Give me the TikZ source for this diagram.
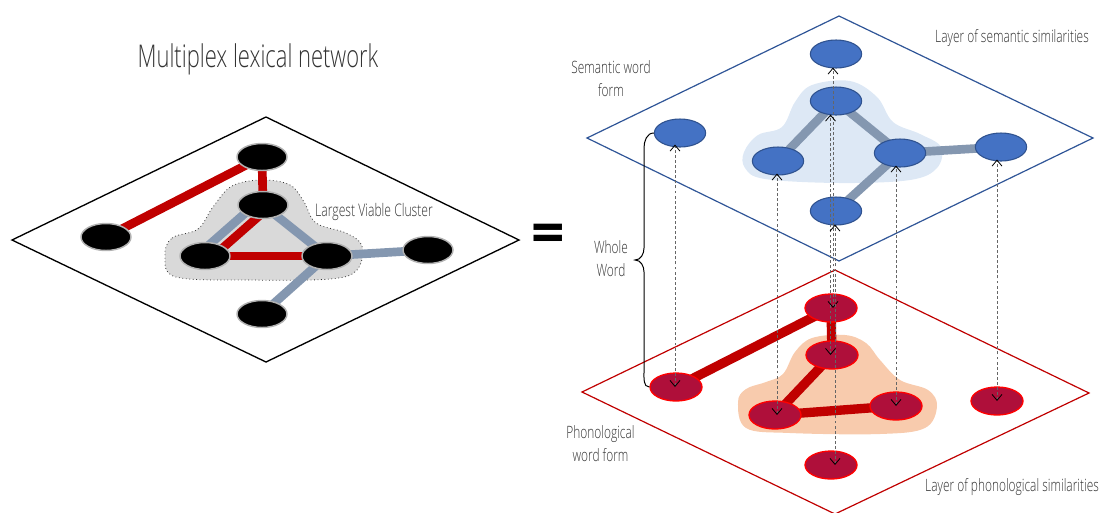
\documentclass[tikz,border=0pt]{standalone}
\usepackage{fontspec}
\IfFontExistsTF{Open Sans Light}
  {\setmainfont{Open Sans Light}[FakeStretch=0.70]}
  {\setmainfont{Open Sans}[FakeStretch=0.66]}
\newfontfamily\eqfont{Open Sans}
\usetikzlibrary{shapes.geometric,arrows.meta,calc}
\definecolor{txt}{HTML}{333333}
\definecolor{edgered}{HTML}{C00000}
\definecolor{edgegray}{HTML}{8497B0}
\definecolor{semfill}{HTML}{4472C4}
\definecolor{semdraw}{HTML}{2F528F}
\definecolor{phofill}{HTML}{AF0F3A}
\definecolor{semline}{HTML}{2F5597}
\definecolor{blobgray}{HTML}{D9D9D9}
\definecolor{blobblue}{HTML}{DDE8F5}
\definecolor{blobpeach}{HTML}{F8CBAD}
\begin{document}
\begin{tikzpicture}[x=0.75pt,y=-0.75pt,
  blk/.style={ellipse,fill=black,draw=black!30,line width=1.1pt,minimum width=37.5pt,minimum height=20.25pt,inner sep=0pt},
  sem/.style={ellipse,fill=semfill,draw=semdraw,line width=0.8pt,minimum width=38.5pt,minimum height=21pt,inner sep=0pt},
  pho/.style={ellipse,fill=phofill,draw=red,line width=1pt,minimum width=39pt,minimum height=21pt,inner sep=0pt},
  redge/.style={draw=edgered,line width=6.5pt},
  gedge/.style={draw=edgegray,line width=6.5pt},
  lbl/.style={text=txt,font=\fontsize{12.75pt}{17.25pt}\selectfont,inner sep=0pt,align=center},
  link/.style={draw=black!60,line width=0.6pt,dash pattern=on 2.2pt off 1.6pt,
    {Straight Barb[length=4.5pt,width=7.5pt,color=black,line width=0.6pt]}-{Straight Barb[length=4.5pt,width=7.5pt,color=black,line width=0.6pt]}},
  brace/.style={draw=black,line width=0.75pt}
]
\useasboundingbox (0,0) rectangle (1099,512);

% ---------- title ----------
\node[lbl,font=\fontsize{23.5pt}{27pt}\selectfont,anchor=base] (title) at (258,67) {Multiplex lexical network};

% ---------- left layer ----------
\draw[black,line width=1pt] (12,240) -- (266,117) -- (519,240) -- (266,362) -- cycle;
\fill[blobgray] plot[smooth cycle,tension=0.6] coordinates {(165,256) (172,238) (198,229) (213,207) (232,186) (262,180) (290,185) (304,202) (316,223) (346,233) (362,246) (357,270) (330,279) (250,280) (176,277)};
\draw[black!80,dotted,line width=0.6pt] plot[smooth cycle,tension=0.6] coordinates {(165,256) (172,238) (198,229) (213,207) (232,186) (262,180) (290,185) (304,202) (316,223) (346,233) (362,246) (357,270) (330,279) (250,280) (176,277)};

\coordinate (n1) at (262,157);
\coordinate (n2) at (106,237);
\coordinate (n3) at (263,205);
\coordinate (n4) at (205,256);
\coordinate (n5) at (327,256);
\coordinate (n6) at (428,250);
\coordinate (n7) at (262,314);

\draw[redge] (n1) -- (n2);
\draw[redge] (n1) -- (n3);
\draw[gedge] ([shift={(-4,-4)}]n4) -- ([shift={(-4,-4)}]n3);
\draw[redge] ([shift={(4,4)}]n4) -- ([shift={(4,4)}]n3);
\draw[redge] (n4) -- (n5);
\draw[gedge] (n3) -- (n5);
\draw[gedge] (n5) -- (n6);
\draw[gedge] (n5) -- (n7);

\node[blk] (N1) at (n1) {};
\node[blk] (N2) at (n2) {};
\node[blk] (N3) at (n3) {};
\node[blk] (N4) at (n4) {};
\node[blk] (N5) at (n5) {};
\node[blk] (N6) at (n6) {};
\node[blk] (N7) at (n7) {};

\node[lbl,anchor=base,font=\fontsize{13pt}{17.25pt}\selectfont] (lvc) at (374,216) {Largest Viable Cluster};

% ---------- equals ----------
\node[text=black,font=\eqfont\bfseries\fontsize{44pt}{44pt}\selectfont,inner sep=0pt] (eq) at (548,239) {=};

% ---------- semantic layer ----------
\draw[semline,line width=0.9pt] (587,138) -- (839,16) -- (1093,138) -- (839,261) -- cycle;
\fill[blobblue] plot[smooth cycle,tension=0.6] coordinates {(744,152) (758,135) (782,127) (795,102) (812,85) (850,81) (877,97) (893,122) (920,134) (941,147) (937,168) (910,180) (840,183) (765,179) (745,168)};

\coordinate (cst) at (836,54);
\coordinate (cs1) at (680,133);
\coordinate (cs2) at (836,101);
\coordinate (cs3) at (900,153);
\coordinate (cs4) at (778,161);
\coordinate (cs5) at (1001,147);
\coordinate (cs6) at (836,211);

\draw[gedge] (cs4) -- (cs2);
\draw[gedge] (cs2) -- (cs3);
\draw[gedge] (cs3) -- (cs5);
\draw[gedge] (cs3) -- (cs6);

\node[sem] (st) at (cst) {};
\node[sem] (s1) at (cs1) {};
\node[sem] (s2) at (cs2) {};
\node[sem] (s3) at (cs3) {};
\node[sem] (s4) at (cs4) {};
\node[sem] (s5) at (cs5) {};
\node[sem] (s6) at (cs6) {};

% ---------- phonological layer ----------
\draw[edgered,line width=0.9pt] (582,392) -- (835,270) -- (1089,393) -- (835,514) -- cycle;
\fill[blobpeach] plot[smooth cycle,tension=0.6] coordinates {(738,402) (746,389) (766,382) (783,374) (795,352) (812,338) (845,335) (866,343) (880,360) (900,380) (928,390) (937,406) (925,428) (880,434) (790,433) (746,428)};

\coordinate (cpt) at (831,308);
\coordinate (cp1) at (676,387);
\coordinate (cp2) at (832,355);
\coordinate (cp3) at (896,406);
\coordinate (cp4) at (775,415);
\coordinate (cp5) at (997,401);
\coordinate (cpb) at (831,465);

\draw[redge,line width=7pt] (cp1) -- (cpt);
\draw[redge,line width=7pt] (cpt) -- (cp2);
\draw[redge,line width=7pt] (cp2) -- (cp4);
\draw[redge,line width=7pt] (cp4) -- (cp3);

\node[pho] (pt) at (cpt) {};
\node[pho] (p1) at (cp1) {};
\node[pho] (p2) at (cp2) {};
\node[pho] (p3) at (cp3) {};
\node[pho] (p4) at (cp4) {};
\node[pho] (p5) at (cp5) {};
\node[pho] (pb) at (cpb) {};

% ---------- inter-layer links ----------
\draw[link] ($(p1.center)+(-1,0)$) -- ($(p1.center |- s1.south)+(-1,-3)$);
\draw[link] ($(p4.center)+(2,0)$) -- ($(p4.center |- s4.south)+(2,-2)$);
\draw[link] ($(pt.center)+(2,0)$) -- ($(pt.center |- st.south)+(2,-1)$);
\draw[link] ($(p2.center)+(-1.5,0)$) -- ($(p2.center |- s2.south)+(-1.5,-1)$);
\draw[link] ($(pb.center)+(4,0)$) -- ($(pb.center |- s6.south)+(4,-1)$);
\draw[link] (p3.center) -- ($(p3.center |- s3.south)+(0,-2)$);
\draw[link] (p5.center) -- ($(p5.center |- s5.south)+(0,-2)$);

% ---------- brace ----------
\draw[brace] (s1.west) to[out=180,in=90] (644,148) -- (644,248) to[out=-90,in=0] (635,260) to[out=0,in=90] (644,272) -- (644,372) to[out=-90,in=180] (p1.west);

% ---------- labels ----------
\node[lbl,anchor=base] (semform) at (611,96) {Semantic word\\form};
\node[lbl,anchor=base] (semlayer) at (1012,42) {Layer of semantic similarities};
\node[lbl,anchor=base] (whole) at (611,276) {Whole\\Word};
\node[lbl,anchor=base] (phoform) at (600.5,461) {Phonological\\word form};
\node[lbl,anchor=base] (pholayer) at (1012,491) {Layer of phonological similarities};
\end{tikzpicture}
\end{document}
